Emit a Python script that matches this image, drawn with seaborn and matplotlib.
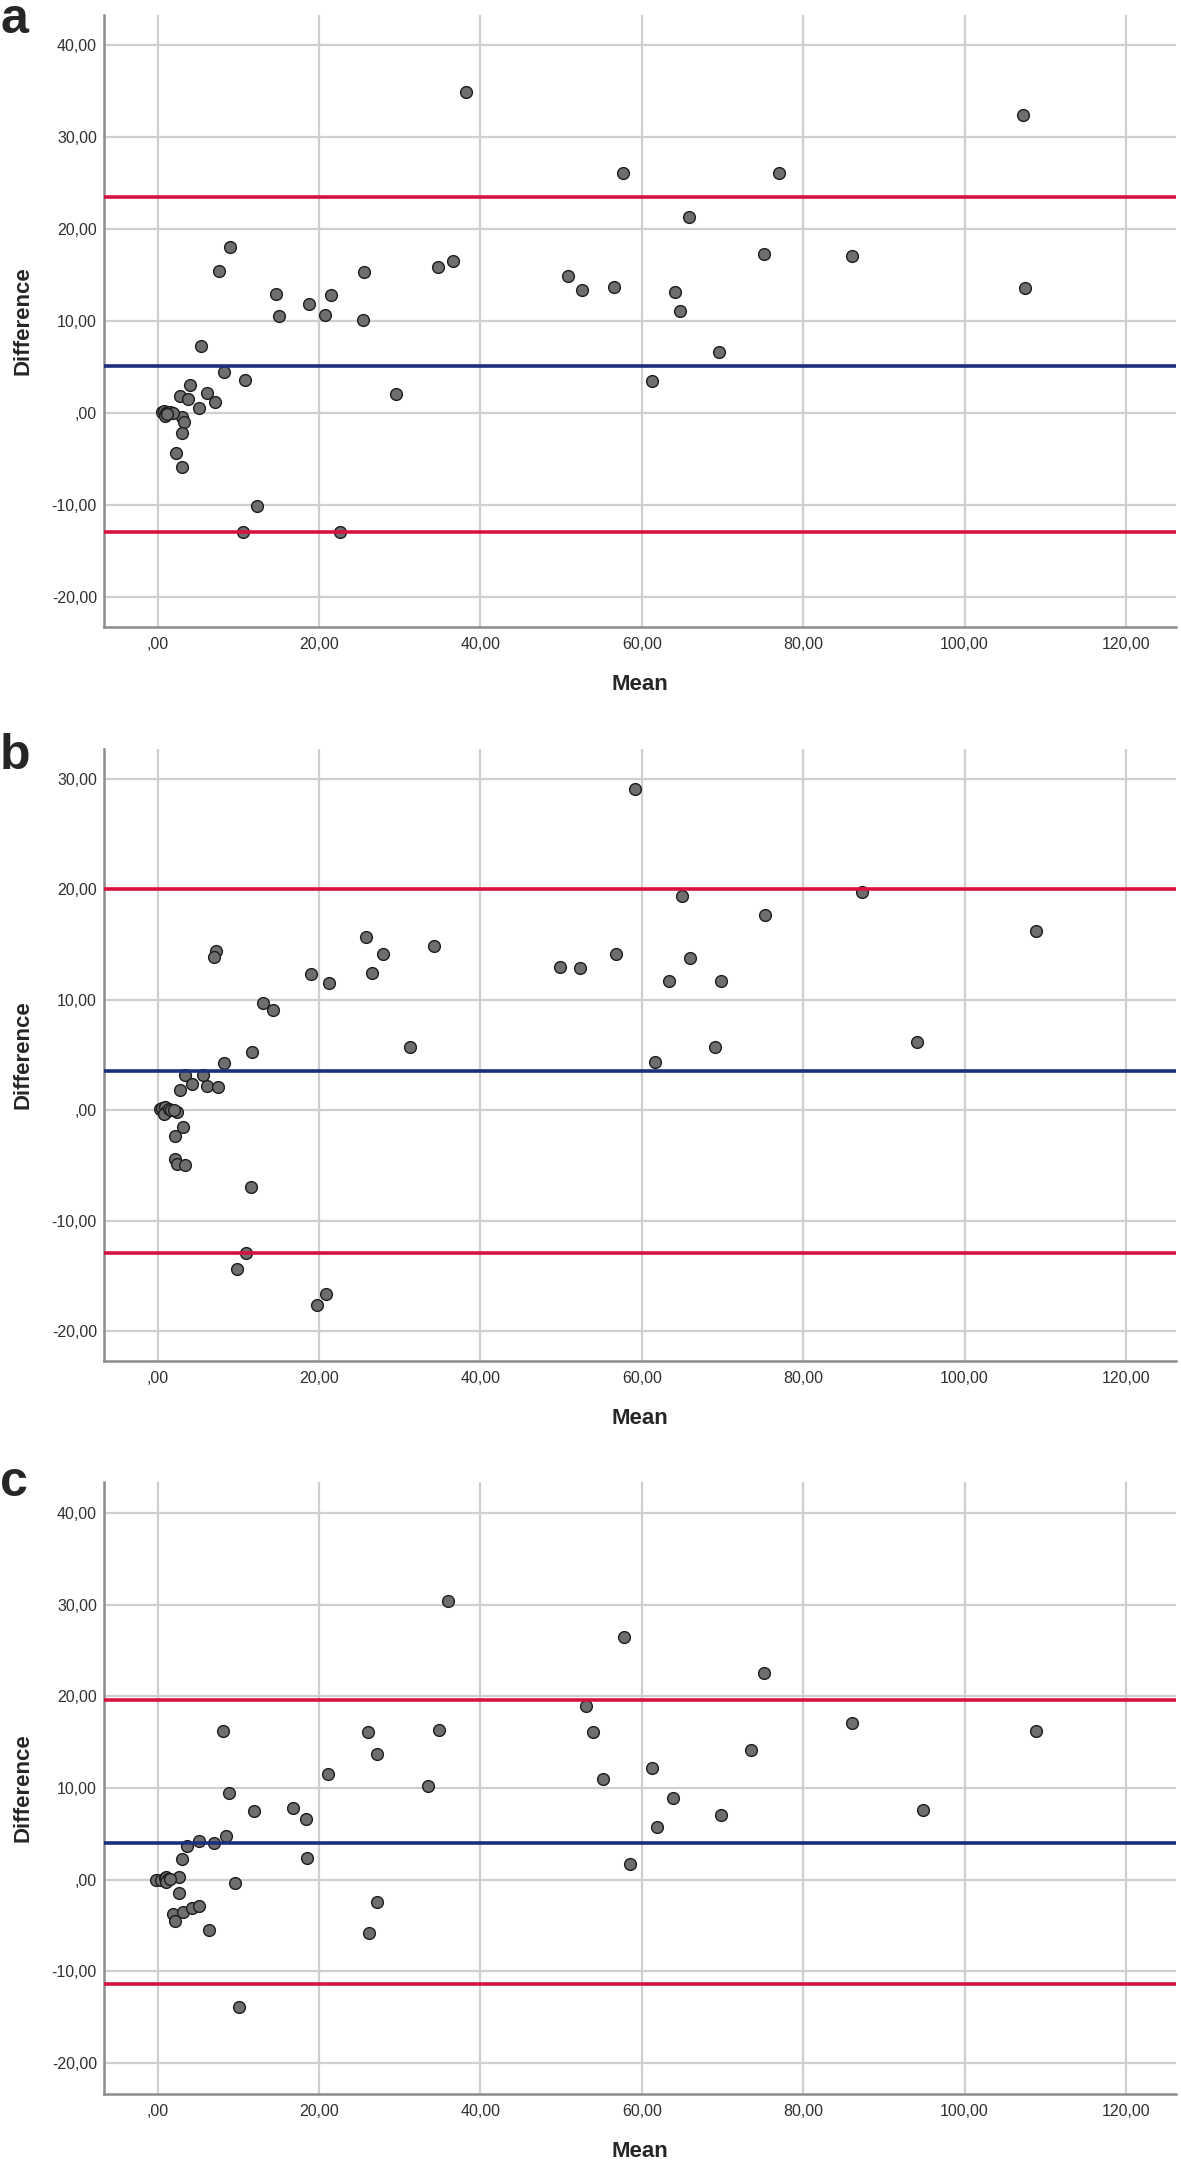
import numpy as np
import pandas as pd
import matplotlib
matplotlib.use("Agg")
import matplotlib.pyplot as plt
from matplotlib.ticker import FuncFormatter, MultipleLocator
import seaborn as sns

# panel a: Bland-Altman points (mean, difference)
a_mean = [38.25, 9.0, 7.6, 14.65, 15.0, 18.8, 20.75, 21.5, 25.6, 25.5, 34.7, 36.6, 29.5,
          50.9, 52.6, 5.4, 8.2, 10.8, 4.0, 6.1, 2.75, 3.8, 7.1, 5.15, 3.0, 3.3, 3.0, 2.3,
          3.0, 12.3, 10.6, 22.6, 107.2, 57.7, 77.0, 65.9, 75.1, 86.0, 107.5, 56.6, 64.1,
          64.7, 69.6, 61.3,
          0.5, 0.8, 1.0, 1.3, 1.6, 1.9, 0.9, 1.2]
a_diff = [34.9, 18.1, 15.4, 12.9, 10.5, 11.9, 10.6, 12.8, 15.3, 10.15, 15.9, 16.5, 2.1,
          14.9, 13.4, 7.3, 4.4, 3.6, 3.0, 2.2, 1.8, 1.55, 1.2, 0.55, -0.5, -1.0, -2.2, -4.4,
          -5.85, -10.15, -13.0, -13.0, 32.4, 26.1, 26.1, 21.3, 17.3, 17.1, 13.6, 13.7, 13.1,
          11.1, 6.6, 3.5,
          0.1, 0.2, 0.0, 0.1, 0.05, 0.0, -0.3, -0.1]
a_lines = [23.5, 5.15, -12.95]

# panel b
b_mean = [7.28, 7.0, 13.1, 14.3, 19.05, 21.2, 25.8, 26.6, 27.9, 34.2, 31.25, 49.9, 52.3,
          11.7, 8.2, 3.35, 5.6, 4.25, 6.1, 7.5, 2.75, 2.4, 3.1, 2.1, 2.2, 2.45, 3.45, 11.6,
          11.0, 9.9, 20.85, 19.7, 59.2, 64.95, 87.3, 75.3, 108.9, 56.8, 66.0, 63.4, 69.8,
          94.1, 69.1, 61.7,
          0.3, 0.6, 0.9, 1.1, 0.8, 1.4, 1.7, 2.0]
b_diff = [14.4, 13.9, 9.7, 9.1, 12.3, 11.5, 15.7, 12.4, 14.1, 14.9, 5.7, 13.0, 12.9,
          5.3, 4.3, 3.2, 3.2, 2.4, 2.2, 2.1, 1.8, -0.15, -1.5, -2.35, -4.4, -4.9, -5.0, -7.0,
          -12.9, -14.4, -16.6, -17.6, 29.1, 19.4, 19.7, 17.65, 16.2, 14.1, 13.8, 11.7, 11.7,
          6.15, 5.7, 4.4,
          0.1, 0.15, 0.3, -0.2, -0.35, 0.1, 0.0, 0.05]
b_lines = [20.05, 3.52, -12.9]

# panel c
c_mean = [36.0, 8.13, 26.05, 34.9, 27.2, 33.5, 21.1, 8.8, 12.0, 16.8, 18.4, 18.5, 8.5,
          5.15, 7.05, 3.6, 3.0, 2.65, 9.65, 2.6, 1.95, 2.2, 3.2, 4.25, 5.1, 6.4, 26.2, 27.2,
          10.1, 53.05, 54.0, 55.2, 57.85, 75.1, 86.0, 108.9, 73.5, 61.3, 63.9, 69.8, 61.9,
          58.5, 94.8,
          -0.2, 0.4, 0.9, 1.1, 1.3, 1.0, 1.6]
c_diff = [30.4, 16.25, 16.15, 16.35, 13.7, 10.2, 11.5, 9.5, 7.5, 7.8, 6.6, 2.4, 4.8,
          4.2, 4.0, 3.65, 2.25, 0.25, -0.35, -1.45, -3.75, -4.5, -3.5, -3.15, -2.9, -5.5,
          -5.8, -2.45, -13.95, 18.9, 16.05, 11.0, 26.5, 22.5, 17.1, 16.25, 14.1, 12.2, 8.85,
          7.0, 5.7, 1.75, 7.55,
          0.0, 0.0, 0.2, 0.3, 0.1, -0.3, 0.05]
c_lines = [19.6, 4.04, -11.45]

panel_letters = ["a", "b", "c"]
y_limits = [(-23.3, 43.3), (-22.7, 32.7), (-23.4, 43.4)]

sns.set_style("white")
plt.rcParams['font.family'] = ['Liberation Sans', 'DejaVu Sans']

RED = "#d8123e"
BLUE = "#1b2f7c"
GRID = "#cfcfcf"


def comma_fmt(v, pos):
    s = f"{v:.2f}".replace(".", ",")
    if s.startswith("0,"):
        s = s[1:]
    return s


fig = plt.figure(figsize=(11.81, 21.63), dpi=100)
bottoms = [0.7101, 0.3708, 0.0319]
panels = [(a_mean, a_diff, a_lines), (b_mean, b_diff, b_lines), (c_mean, c_diff, c_lines)]

for i, (means, diffs, lines) in enumerate(panels):
    ax = fig.add_axes([0.088, bottoms[i], 0.9077, 0.283])
    df = pd.DataFrame({"Mean": means, "Difference": diffs})
    sns.scatterplot(data=df, x="Mean", y="Difference", ax=ax, color="#6e6e6e",
                    edgecolor="#1c1c1c", linewidth=1.0, s=72, zorder=3)
    ax.axhline(lines[0], color=RED, lw=2.6, zorder=4)
    ax.axhline(lines[1], color=BLUE, lw=2.6, zorder=4)
    ax.axhline(lines[2], color=RED, lw=2.6, zorder=4)

    ax.set_xlim(-6.65, 126.2)
    ax.set_ylim(*y_limits[i])
    ax.xaxis.set_major_locator(MultipleLocator(20))
    ax.yaxis.set_major_locator(MultipleLocator(10))
    ax.xaxis.set_major_formatter(FuncFormatter(comma_fmt))
    ax.yaxis.set_major_formatter(FuncFormatter(comma_fmt))
    ax.grid(True, color=GRID, lw=1.6, zorder=0)
    ax.set_axisbelow(True)
    ax.tick_params(axis="both", length=0, labelsize=11.5, colors="#303030")
    ax.tick_params(axis="x", pad=7)
    ax.tick_params(axis="y", pad=5)

    for side in ["top", "right"]:
        ax.spines[side].set_visible(False)
    for side in ["left", "bottom"]:
        ax.spines[side].set_color("#8c8c8c")
        ax.spines[side].set_linewidth(1.8)

    ax.set_xlabel("Mean", fontsize=16, fontweight="bold")
    ax.set_ylabel("Difference", fontsize=16, fontweight="bold")
    ax.xaxis.set_label_coords(0.5, -0.077)
    ax.yaxis.set_label_coords(-0.066, 0.5)

# panel letters
fig.text(0.0, 1 - 33 / 2163, panel_letters[0], fontsize=36, fontweight="bold", va="baseline")
fig.text(0.0, 1 - 769 / 2163, panel_letters[1], fontsize=36, fontweight="bold", va="baseline")
fig.text(0.0, 1 - 1496 / 2163, panel_letters[2], fontsize=36, fontweight="bold", va="baseline")

fig.savefig("out.png", dpi=100)
